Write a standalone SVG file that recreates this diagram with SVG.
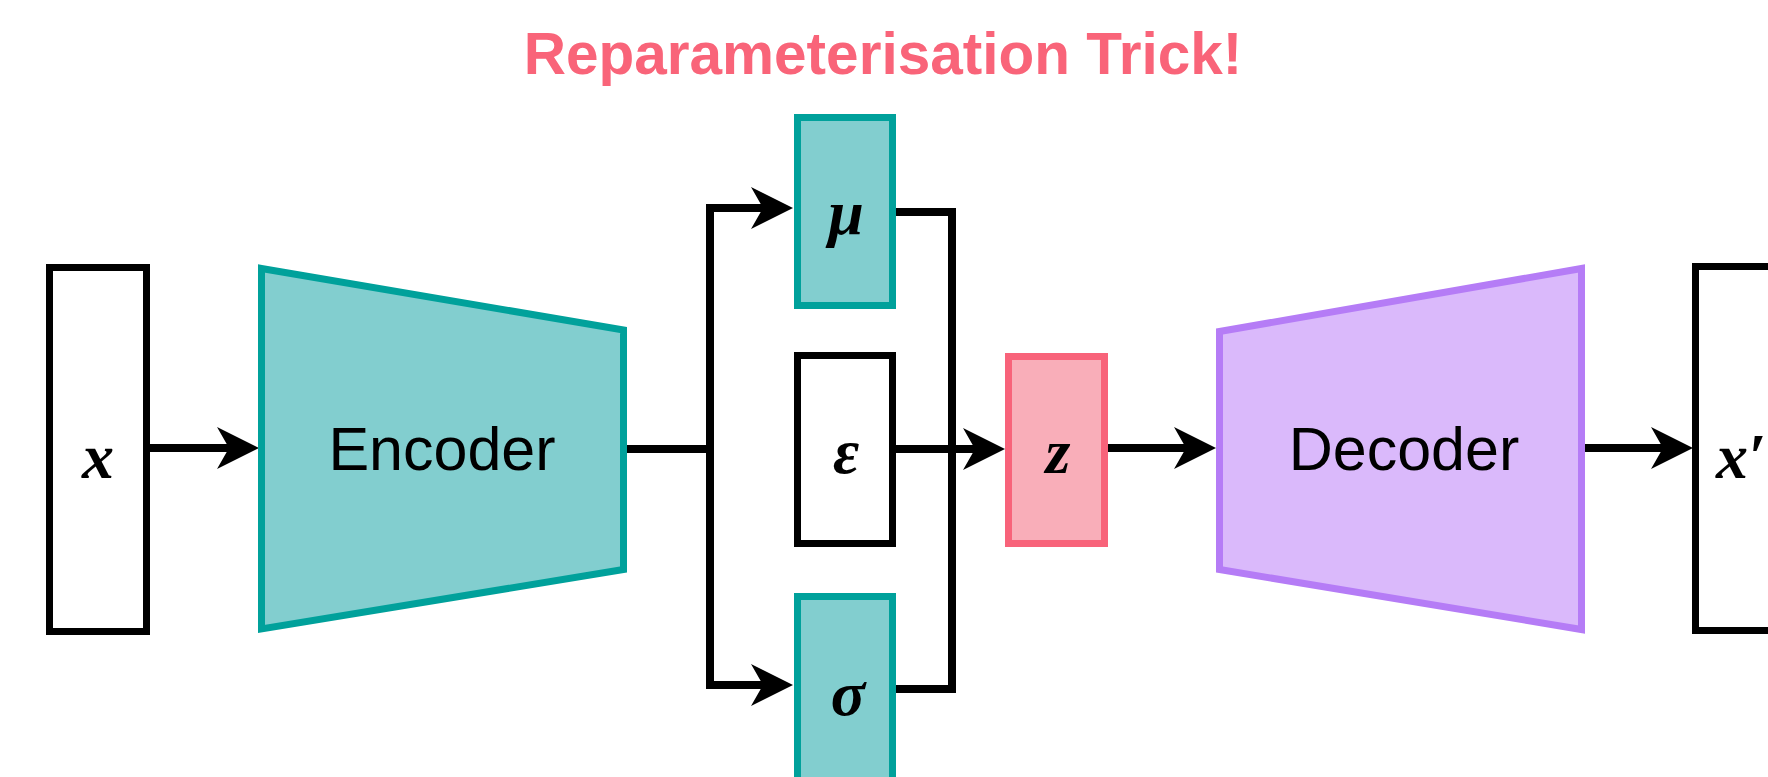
<svg xmlns="http://www.w3.org/2000/svg" width="1768" height="777" viewBox="0 0 1768 777">
<style>
.box{stroke-width:7;stroke-linejoin:miter}
.white{fill:#ffffff;stroke:#000000}
.teal{fill:#82CECF;stroke:#00A19B}
.pink{fill:#F9AEB9;stroke:#F8637A}
.purple{fill:#DAB9FB;stroke:#B57CF6}
.lbl{font-family:"Liberation Sans",Arial,sans-serif;font-size:61px;fill:#000;text-anchor:middle}
.math{font-family:"Liberation Serif","Times New Roman",serif;font-style:italic;font-weight:bold;font-size:64px;fill:#000;text-anchor:middle}
.title{font-family:"Liberation Sans",Arial,sans-serif;font-weight:bold;font-size:58.5px;fill:#F96479;text-anchor:middle}
.conn{fill:none;stroke:#000;stroke-width:8;stroke-linejoin:miter;stroke-linecap:butt}
</style>
<defs>
<marker id="arr" markerUnits="userSpaceOnUse" markerWidth="42" markerHeight="42" viewBox="0 0 42 42" refX="21" refY="21" orient="auto">
<path d="M0,0 L42,21 L0,42 L12,21 Z" fill="#000"/>
</marker>
</defs>
<rect width="1768" height="777" fill="#ffffff"/>
<text class="title" x="883" y="74">Reparameterisation Trick!</text>

<g id="connectors">
<path class="conn" d="M146,448 H238" marker-end="url(#arr)"/>
<path class="conn" d="M624,449 H714"/>
<path class="conn" d="M710,449 V208 H772" marker-end="url(#arr)"/>
<path class="conn" d="M710,449 V685 H772" marker-end="url(#arr)"/>
<path class="conn" d="M893,212 H952 V689 H893"/>
<path class="conn" d="M893,449 H984" marker-end="url(#arr)"/>
<path class="conn" d="M1105,448 H1195" marker-end="url(#arr)"/>
<path class="conn" d="M1582,448 H1672" marker-end="url(#arr)"/>
</g>

<g id="node-x">
<rect class="box white" x="49.5" y="267.5" width="97" height="364"/>
<text class="math" x="98" y="478">x</text>
</g>
<g id="node-encoder">
<polygon class="box teal" points="261.5,268.5 623.5,330 623.5,569.5 261.5,629"/>
<text class="lbl" x="442" y="470">Encoder</text>
</g>
<g id="node-mu">
<rect class="box teal" x="797.5" y="117.5" width="95" height="188"/>
<text class="math" x="846" y="234">μ</text>
</g>
<g id="node-eps">
<rect class="box white" x="797.5" y="355.5" width="95" height="188"/>
<text class="math" x="846" y="473">ε</text>
</g>
<g id="node-sigma">
<rect class="box teal" x="797.5" y="596.5" width="95" height="188"/>
<text class="math" x="848" y="715">σ</text>
</g>
<g id="node-z">
<rect class="box pink" x="1008.5" y="356.5" width="96" height="187"/>
<text class="math" x="1058" y="473">z</text>
</g>
<g id="node-decoder">
<polygon class="box purple" points="1219.5,331.5 1581.5,268.5 1581.5,629.5 1219.5,569.5"/>
<text class="lbl" x="1404" y="470">Decoder</text>
</g>
<g id="node-xprime">
<rect class="box white" x="1695.5" y="266.5" width="97" height="364"/>
<text class="math" x="1716" y="478" style="text-anchor:start">x′</text>
</g>
</svg>
